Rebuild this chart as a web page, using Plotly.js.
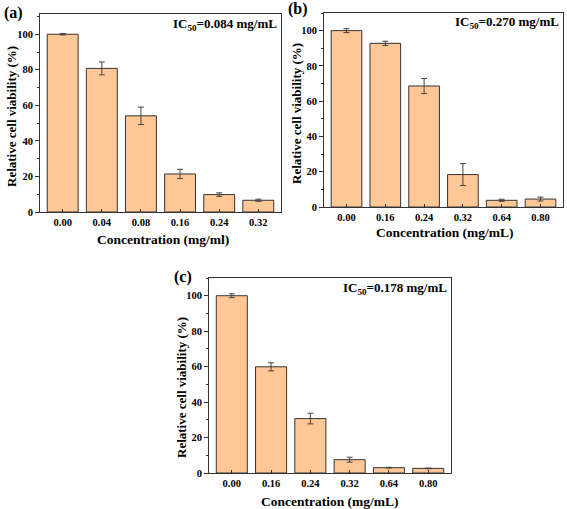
<!DOCTYPE html>
<html>
<head>
<meta charset="utf-8">
<script src="https://cdn.plot.ly/plotly-3.0.1.min.js"></script>
<style>html,body{margin:0;padding:0;background:#fff;}#chart{width:567px;height:509px;}</style>
</head>
<body>
<div id="chart"></div>
<script>
// Panel (a)
const catsA = ["0.00", "0.04", "0.08", "0.16", "0.24", "0.32"];
const valsA = [100, 80.8, 54.1, 21.4, 9.8, 6.6];
const errA = [0.4, 3.6, 4.9, 2.6, 1.0, 0.6];
// Panel (b)
const catsB = ["0.00", "0.16", "0.24", "0.32", "0.64", "0.80"];
const valsB = [100, 92.8, 68.6, 18.4, 3.8, 4.5];
const errB = [1.1, 1.2, 4.3, 6.2, 0.6, 1.1];
// Panel (c)
const catsC = ["0.00", "0.16", "0.24", "0.32", "0.64", "0.80"];
const valsC = [100, 59.9, 30.7, 7.5, 3.0, 2.6];
const errC = [1.1, 2.3, 3.0, 1.4, 0.2, 0.2];

const panelLabels = ["(a)", "(b)", "(c)"];
const icLabels = ["IC<sub>50</sub>=0.084 mg/mL", "IC<sub>50</sub>=0.270 mg/mL", "IC<sub>50</sub>=0.178 mg/mL"];
const xTitles = ["Concentration (mg/ml)", "Concentration (mg/mL)", "Concentration (mg/mL)"];
const yTitle = "Relative cell viability (%)";

const FONT = "Liberation Serif";
const barColor = "#FFC896";
const lineColor = "#333333";

function barTrace(cats, vals, errs, xa, ya) {
  return {
    type: "bar",
    x: cats.map((c, i) => i),
    y: vals,
    xaxis: xa, yaxis: ya,
    width: 0.79,
    marker: {color: barColor, line: {color: lineColor, width: 1}},
    error_y: {type: "data", array: errs, visible: true, color: "#444", thickness: 1, width: 3},
    hoverinfo: "skip",
    showlegend: false
  };
}

const data = [
  barTrace(catsA, valsA, errA, "x", "y"),
  barTrace(catsB, valsB, errB, "x2", "y2"),
  barTrace(catsC, valsC, errC, "x3", "y3")
];

function xAxis(cats, domain, anchor) {
  return {
    domain: domain, anchor: anchor,
    range: [-0.58, 5.58],
    tickmode: "array", tickvals: cats.map((c, i) => i), ticktext: cats.map(c => "<b>" + c + "</b>"),
    ticks: "inside", ticklen: 3, tickcolor: lineColor,
    showline: true, linecolor: lineColor, linewidth: 1, mirror: true,
    showgrid: false, zeroline: false,
    tickfont: {family: FONT, size: 10.5, color: "#000"},
    fixedrange: true
  };
}
function yAxis(domain, anchor, top) {
  return {
    domain: domain, anchor: anchor,
    range: [0, top],
    tickmode: "linear", tick0: 0, dtick: 20,
    ticks: "outside", ticklen: 4, tickcolor: lineColor,
    minor: {ticks: "outside", ticklen: 2, dtick: 10, tickcolor: lineColor},
    showline: true, linecolor: lineColor, linewidth: 1, mirror: true,
    showgrid: false, zeroline: false,
    tickfont: {family: FONT, size: 10.5, weight: "bold", color: "#000"},
    fixedrange: true
  };
}

function ann(text, x, y, size, opts) {
  return Object.assign({
    text: "<b>" + text + "</b>", xref: "paper", yref: "paper",
    x: x / 567, y: 1 - y / 509, xanchor: "center", yanchor: "middle",
    showarrow: false, font: {family: FONT, size: size, color: "#000"}
  }, opts || {});
}

const layout = {
  width: 567, height: 509,
  margin: {l: 0, r: 0, t: 0, b: 0},
  paper_bgcolor: "#fff", plot_bgcolor: "#fff",
  font: {family: FONT, color: "#000"},
  xaxis: xAxis(catsA, [40/567, 281/567], "y"),
  yaxis: yAxis([1 - 212/509, 1 - 14/509], "x", 111.4),
  xaxis2: xAxis(catsB, [324/567, 563/567], "y2"),
  yaxis2: yAxis([1 - 207/509, 1 - 13/509], "x2", 110),
  xaxis3: xAxis(catsC, [209/567, 451/567], "y3"),
  yaxis3: yAxis([1 - 473/509, 1 - 278/509], "x3", 110),
  annotations: [
    ann(panelLabels[0], 2, 13, 16, {xanchor: "left"}),
    ann(panelLabels[1], 286, 9, 16, {xanchor: "left"}),
    ann(panelLabels[2], 172, 277, 16, {xanchor: "left"}),
    ann(icLabels[0], 279, 25, 13, {xanchor: "right"}),
    ann(icLabels[1], 561, 22, 13, {xanchor: "right"}),
    ann(icLabels[2], 449, 288, 13, {xanchor: "right"}),
    ann(xTitles[0], 163, 239, 13.5),
    ann(xTitles[1], 445, 233, 13.5),
    ann(xTitles[2], 330, 501, 13.5),
    ann(yTitle, 12, 117, 13, {textangle: -90}),
    ann(yTitle, 296, 114, 13, {textangle: -90}),
    ann(yTitle, 181, 388, 13, {textangle: -90})
  ]
};

Plotly.newPlot("chart", data, layout, {displayModeBar: false, staticPlot: true});
</script>
</body>
</html>
